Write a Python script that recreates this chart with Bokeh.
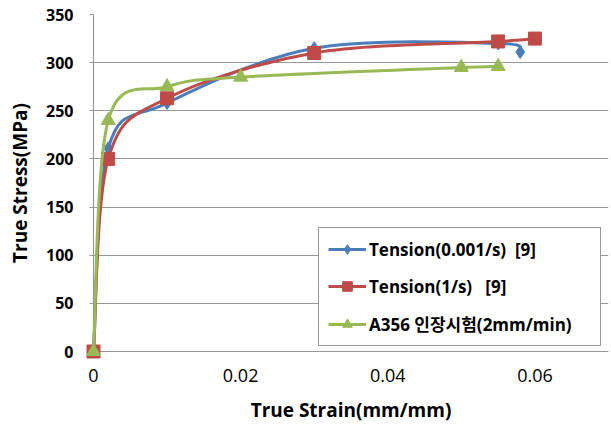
from bokeh.plotting import figure
from bokeh.models import Range1d, Legend, LegendItem, FixedTicker, ColumnDataSource
from bokeh.embed import file_html
from bokeh.resources import INLINE

# data
strain_blue = [0.0, 0.002, 0.01, 0.03, 0.055, 0.058]
stress_blue = [0, 211, 258, 315, 320, 311]
strain_red = [0.0, 0.002, 0.01, 0.03, 0.055, 0.06]
stress_red = [0, 200, 263, 310, 322, 325]
strain_green = [0.0, 0.002, 0.01, 0.02, 0.05, 0.055]
stress_green = [0, 240, 275, 285, 295, 296]

labels = ["Tension(0.001/s)  [9]", "Tension(1/s)   [9]", "A356 인장시험(2mm/min)"]
colors = ["#4A7EBB", "#BE4B48", "#98B954"]
x_ticks = [0, 0.02, 0.04, 0.06]
y_ticks = [0, 50, 100, 150, 200, 250, 300, 350]

FONT = "Open Sans, Noto Sans CJK KR"

p = figure(frame_width=515, frame_height=337, output_backend="svg", toolbar_location=None,
           x_range=Range1d(0, 0.07), y_range=Range1d(0, 350),
           min_border_left=93, min_border_right=3, min_border_top=14, min_border_bottom=76)
p.outline_line_color = None
p.background_fill_color = "white"
p.border_fill_color = "white"

p.xgrid.grid_line_color = None
p.ygrid.grid_line_color = "#989898"
p.ygrid.grid_line_width = 1.2

p.xaxis.ticker = FixedTicker(ticks=x_ticks)
p.yaxis.ticker = FixedTicker(ticks=y_ticks)
p.xaxis.major_label_overrides = {0: "0", 0.02: "0.02", 0.04: "0.04", 0.06: "0.06"}
p.xaxis.minor_tick_line_color = None
p.yaxis.minor_tick_line_color = None
for ax in (p.xaxis[0], p.yaxis[0]):
    ax.axis_line_color = "#989898"
    ax.axis_line_width = 1.2
    ax.major_tick_line_color = "#989898"
    ax.major_tick_in = 0
    ax.major_tick_out = 4
    ax.major_label_text_color = "black"
    ax.axis_label_text_color = "black"
    ax.axis_label_text_font = FONT
    ax.axis_label_text_font_style = "bold"
    ax.axis_label_text_font_size = "19px"
    ax.major_label_text_font = FONT
p.xaxis.major_tick_line_color = None
p.xaxis.major_tick_out = 0
p.xaxis.major_label_text_font_size = "18px"
p.xaxis.major_label_text_font_style = "normal"
p.xaxis.major_label_standoff = 17
p.yaxis.major_label_text_font_size = "16px"
p.yaxis.major_label_text_font_style = "bold"
p.yaxis.major_label_standoff = 16
p.xaxis.axis_label = "True Strain(mm/mm)"
p.yaxis.axis_label = "True Stress(MPa)"
p.xaxis.axis_label_standoff = 12
p.yaxis.axis_label_standoff = 10


def bezier_source(xs, ys):
    n = len(xs)
    d = dict(x0=[], y0=[], x1=[], y1=[], cx0=[], cy0=[], cx1=[], cy1=[])
    for i in range(n - 1):
        a = i - 1 if i > 0 else i
        b = i + 2 if i + 2 < n else i + 1
        d["x0"].append(xs[i]); d["y0"].append(ys[i])
        d["x1"].append(xs[i + 1]); d["y1"].append(ys[i + 1])
        d["cx0"].append(xs[i] + (xs[i + 1] - xs[a]) / 6)
        d["cy0"].append(ys[i] + (ys[i + 1] - ys[a]) / 6)
        d["cx1"].append(xs[i + 1] - (xs[b] - xs[i]) / 6)
        d["cy1"].append(ys[i + 1] - (ys[b] - ys[i]) / 6)
    return ColumnDataSource(d)


series = [(strain_blue, stress_blue, "diamond", 13, 10),
          (strain_red, stress_red, "square", 13, 9),
          (strain_green, stress_green, "triangle", 14, 9)]
items = []
for (xs, ys, marker, size, lsize), col, lab in zip(series, colors, labels):
    src = bezier_source(xs, ys)
    r_line = p.bezier(x0="x0", y0="y0", x1="x1", y1="y1", cx0="cx0", cy0="cy0",
                      cx1="cx1", cy1="cy1", source=src, line_color=col, line_width=3)
    r_line.level = "overlay"
    r_pts = p.scatter(xs, ys, marker=marker, size=size, fill_color=col, line_color=col)
    r_pts.level = "overlay"
    # legend proxies (placed outside the visible range): line with a small marker
    lp_line = p.line(x=[-1, -1], y=[-100, -100], line_color=col, line_width=3)
    lp_mark = p.scatter(x=[-1], y=[-100], marker=marker, size=lsize,
                        fill_color=col, line_color=col)
    items.append(LegendItem(label=lab, renderers=[lp_line, lp_mark]))

legend = Legend(items=items, location=(225, 5))
legend.border_line_color = "#333333"
legend.border_line_width = 1.3
legend.background_fill_color = "white"
legend.background_fill_alpha = 1
legend.label_text_font = FONT
legend.label_text_font_style = "bold"
legend.label_text_font_size = "17px"
legend.label_text_color = "black"
legend.label_width = 222
legend.label_height = 24
legend.glyph_width = 38
legend.glyph_height = 24
legend.spacing = 13
legend.padding = 9
legend.margin = 0
legend.label_standoff = 3
p.add_layout(legend, "center")

open("out.html", "w").write(file_html(p, INLINE))
